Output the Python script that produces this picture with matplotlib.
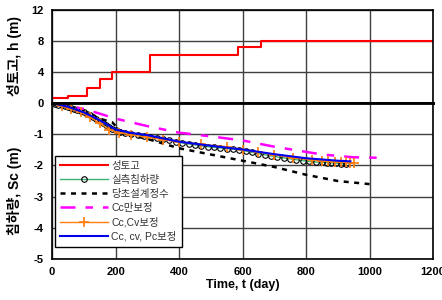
import numpy as np
import matplotlib
matplotlib.use('Agg')
import matplotlib.pyplot as plt

plt.rcParams['font.family'] = ['Liberation Sans', 'Noto Sans CJK KR', 'DejaVu Sans']

# fill height (step)
fill_t = [0, 50, 110, 150, 190, 310, 585, 658, 1200]
fill_h = [0.6, 0.9, 1.9, 3.1, 4.0, 6.2, 7.2, 8.0, 8.0]

# measured settlement
meas_t = [0, 10, 20, 30, 40, 50, 60, 70, 80, 90, 100, 110, 120, 130, 140, 150, 160, 170,
          180, 190, 200, 215, 230, 250, 270, 290, 310, 330, 350, 370, 390, 410, 430, 450,
          470, 490, 510, 530, 550, 570, 590, 610, 630, 650, 670, 690, 710, 730, 750, 770,
          790, 810, 830, 850, 865, 880, 895, 910, 925]
meas_s = [0, -0.03, -0.06, -0.08, -0.1, -0.13, -0.16, -0.19, -0.22, -0.25, -0.3, -0.34,
          -0.39, -0.45, -0.51, -0.57, -0.64, -0.71, -0.78, -0.84, -0.88, -0.93, -0.96,
          -0.99, -1.02, -1.05, -1.08, -1.12, -1.16, -1.2, -1.24, -1.28, -1.31, -1.34,
          -1.37, -1.4, -1.42, -1.44, -1.46, -1.48, -1.5, -1.54, -1.58, -1.62, -1.66,
          -1.7, -1.73, -1.76, -1.79, -1.82, -1.85, -1.87, -1.89, -1.9, -1.91, -1.92,
          -1.93, -1.94, -1.95]

# original design parameters
design_t = [0, 50, 100, 150, 190, 210, 240, 300, 400, 500, 600, 700, 800, 900, 1000]
design_s = [0, -0.12, -0.28, -0.5, -0.62, -0.85, -1.0, -1.15, -1.45, -1.65, -1.85, -2.05,
            -2.3, -2.5, -2.6]

# Cc only
cc_t = [0, 50, 100, 150, 200, 250, 300, 400, 500, 600, 700, 760, 850, 950, 1050]
cc_s = [0, -0.08, -0.19, -0.34, -0.5, -0.62, -0.74, -0.95, -1.07, -1.2, -1.4, -1.5,
        -1.65, -1.74, -1.76]

# Cc, Cv
cccv_t = [0, 30, 60, 90, 120, 150, 180, 210, 250, 300, 350, 400, 470, 550, 600, 650, 700,
          760, 820, 850, 870, 890, 910, 925, 940, 950]
cccv_s = [0, -0.1, -0.2, -0.3, -0.45, -0.65, -0.85, -0.95, -1.02, -1.1, -1.17, -1.25,
          -1.33, -1.4, -1.5, -1.58, -1.66, -1.76, -1.82, -1.85, -1.87, -1.88, -1.9, -1.9,
          -1.92, -1.93]

# Cc, cv, Pc
ccpc_t = [0, 50, 100, 150, 200, 250, 300, 400, 500, 600, 700, 800, 900, 940]
ccpc_s = [0, -0.12, -0.3, -0.55, -0.85, -0.96, -1.03, -1.24, -1.37, -1.49, -1.64, -1.77,
          -1.85, -1.87]

fig = plt.figure(figsize=(4.42, 3.0), dpi=100)
ax1 = fig.add_axes([52/442, 1-103/300, 381/442, 93/300])
ax2 = fig.add_axes([52/442, 1-259/300, 381/442, 156/300], sharex=ax1)

grid_c = '#404040'
for ax in (ax1, ax2):
    ax.grid(True, color=grid_c, lw=1)
    ax.set_axisbelow(True)
    ax.tick_params(length=0, labelsize=8, pad=6)
    for s in ax.spines.values():
        s.set_linewidth(1.2)

ax1.set_xlim(0, 1200)
ax1.set_ylim(0, 12)
ax1.set_yticks([0, 4, 8, 12])
ax1.tick_params(labelbottom=False)
ax1.spines['bottom'].set_linewidth(2)
ax2.set_ylim(-5, 0)
ax2.set_yticks([-5, -4, -3, -2, -1, 0])
ax2.set_yticklabels(['-5', '-4', '-3', '-2', '-1', ''])
ax2.set_xticks(range(0, 1201, 200))
ax2.spines['top'].set_linewidth(2)

for ax in (ax1, ax2):
    for lab in ax.get_xticklabels() + ax.get_yticklabels():
        lab.set_fontweight('bold')

ax1.step(fill_t, fill_h, where='post', color='red', lw=1.5)
ax2.plot([], [], color='red', lw=1.5, label='성토고')
ax2.plot(meas_t, meas_s, color='#3cb371', lw=1, marker='o', ms=4, mfc='none',
         mec='black', mew=0.8, label='실측침하량')
ax2.plot(design_t, design_s, color='black', lw=1.8, dashes=(2, 2.2), label='당초설계정수')
ax2.plot(cc_t, cc_s, color='magenta', lw=1.8, dashes=(6, 4, 3, 4), label='Cc만보정')
ax2.plot(cccv_t, cccv_s, color='#ff7f0e', lw=1, marker='+', ms=7, mew=1.2, label='Cc,Cv보정')
ax2.plot(ccpc_t, ccpc_s, color='#0000ee', lw=1.5, label='Cc, cv, Pc보정')

ax2.set_xlabel('Time, t (day)', fontsize=9, fontweight='bold', labelpad=1)
ax1.set_ylabel('성토고, h (m)', fontsize=10, fontweight='bold')
ax2.set_ylabel('침하량, Sc (m)', fontsize=10, fontweight='bold')
ax1.yaxis.set_label_coords(-0.078, 0.5)
ax2.yaxis.set_label_coords(-0.078, 0.44)

leg = ax2.legend(loc='lower left', bbox_to_anchor=(0.008, 0.077), borderaxespad=0,
                 fontsize=7.5, handlelength=4.6, handletextpad=0.3, fancybox=False,
                 edgecolor='black', framealpha=1, labelspacing=0.38, borderpad=0.5)
leg.get_frame().set_linewidth(1)
for t in leg.get_texts():
    t.set_color('#333333')

fig.savefig('out.png', dpi=100)
